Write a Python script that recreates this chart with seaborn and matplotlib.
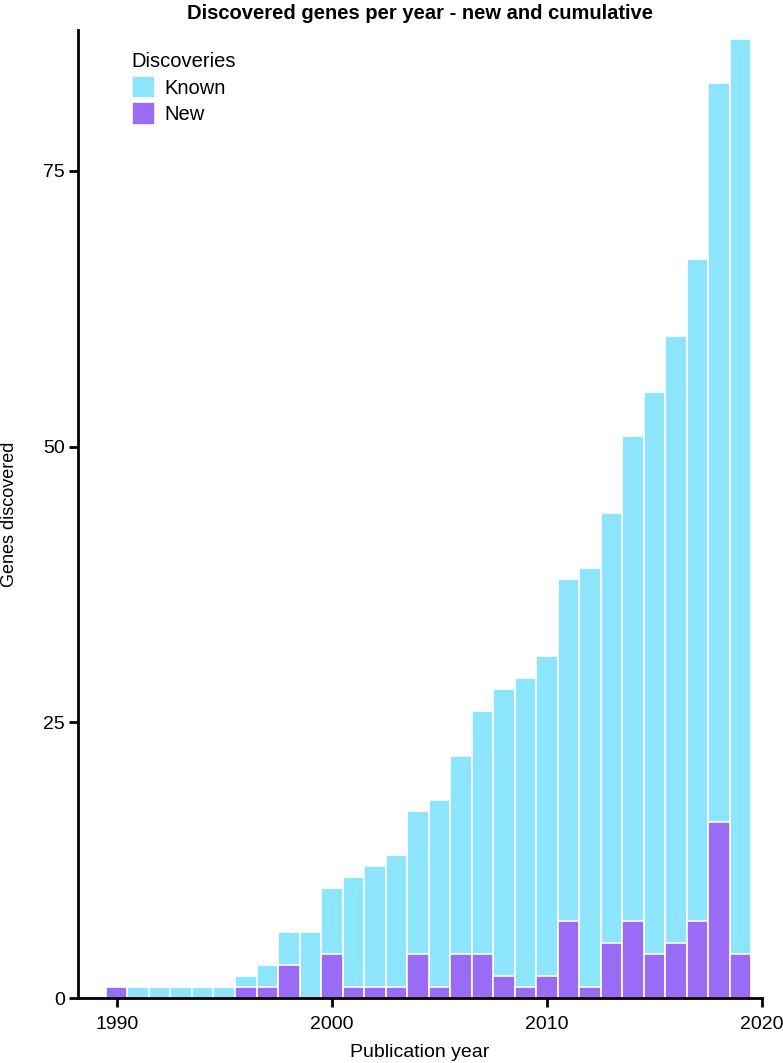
import matplotlib
matplotlib.use('Agg')
import matplotlib.pyplot as plt
import seaborn as sns
import pandas as pd

# genes per publication year
years = list(range(1990, 2020))
known = [1, 1, 1, 1, 1, 1, 2, 3, 6, 6,
         10, 11, 12, 13, 17, 18, 22, 26, 28, 29,
         31, 38, 39, 44, 51, 55, 60, 67, 83, 87]
new = [1, 0, 0, 0, 0, 0, 1, 1, 3, 0,
       4, 1, 1, 1, 4, 1, 4, 4, 2, 1,
       2, 7, 1, 5, 7, 4, 5, 7, 16, 4]

df = pd.DataFrame({
    'year': years * 2,
    'count': known + new,
    'Discoveries': ['Known'] * len(years) + ['New'] * len(years),
})

sns.set_style('ticks')
plt.rcParams['font.family'] = ['Liberation Sans', 'DejaVu Sans']
plt.rcParams.update({'text.color': 'black', 'axes.labelcolor': 'black',
                     'xtick.color': 'black', 'ytick.color': 'black',
                     'axes.edgecolor': 'black'})

fig = plt.figure(figsize=(7.83, 10.63), dpi=100)
ax = fig.add_axes([0.0996, 0.061, 0.8735, 0.911])

sns.barplot(data=df, x='year', y='count', hue='Discoveries', dodge=False,
            native_scale=True, width=1.0, edgecolor='white', linewidth=1.2,
            palette={'Known': '#8DE4FD', 'New': '#9A6BF4'}, saturation=1,
            ax=ax)

ax.set_xlim(1988.2, 2020)
ax.set_ylim(0, 87.8)
ax.set_xticks([1990, 2000, 2010, 2020])
ax.set_yticks([0, 25, 50, 75])
ax.tick_params(axis='both', labelsize=14, width=2, length=6.5)
ax.tick_params(axis='x', pad=6)
ax.tick_params(axis='y', pad=3)
for s in ['left', 'bottom']:
    ax.spines[s].set_linewidth(2)
sns.despine(ax=ax)
ax.spines['bottom'].set_bounds(1988.2, 2020)

ax.set_xlabel('Publication year', fontsize=14, labelpad=8)
ax.set_ylabel('Genes discovered', fontsize=13, labelpad=18)
ax.set_title('Discovered genes per year - new and cumulative',
             fontsize=14.5, fontweight='bold', pad=8)

leg = ax.legend(title='Discoveries', loc='upper left', frameon=False,
                fontsize=14.5, title_fontsize=14.5, bbox_to_anchor=(0.061, 0.989),
                handlelength=1.15, handleheight=1.35, handletextpad=0.45,
                labelspacing=0.2, borderaxespad=0.2)
leg._legend_box.align = 'left'

fig.savefig('out.png', dpi=100)
